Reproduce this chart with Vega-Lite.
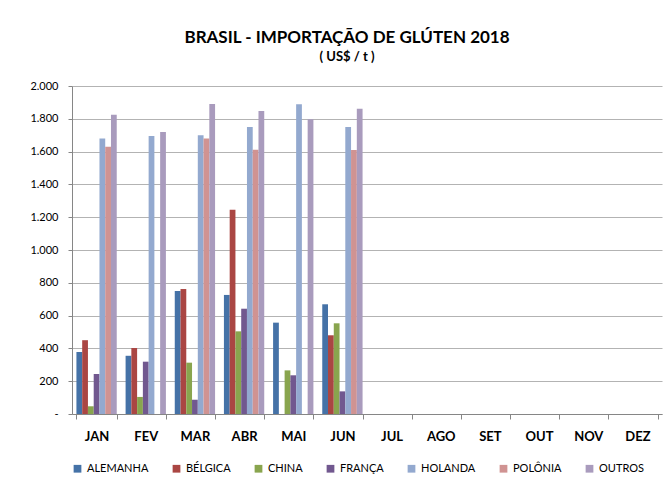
{
  "$schema": "https://vega.github.io/schema/vega-lite/v6.json",
  "width": 590,
  "height": 328,
  "autosize": {"type": "none"},
  "padding": {"left": 72, "top": 86, "right": 3, "bottom": 72},
  "background": "white",
  "title": {
    "text": "BRASIL - IMPORTAÇÃO DE GLÚTEN 2018",
    "subtitle": "( US$ / t )",
    "font": "Lato",
    "fontSize": 17,
    "fontWeight": "bold",
    "subtitleFont": "Lato",
    "subtitleFontSize": 13,
    "subtitleFontWeight": "bold",
    "subtitleColor": "#000000",
    "subtitlePadding": 4,
    "color": "#000000",
    "anchor": "middle",
    "dx": -20,
    "offset": 15
  },
  "data": {
    "values": [
      {"mes": "JAN", "pais": "ALEMANHA", "valor": 378},
      {"mes": "JAN", "pais": "BÉLGICA", "valor": 450},
      {"mes": "JAN", "pais": "CHINA", "valor": 47},
      {"mes": "JAN", "pais": "FRANÇA", "valor": 244},
      {"mes": "JAN", "pais": "HOLANDA", "valor": 1680},
      {"mes": "JAN", "pais": "POLÔNIA", "valor": 1630},
      {"mes": "JAN", "pais": "OUTROS", "valor": 1825},
      {"mes": "FEV", "pais": "ALEMANHA", "valor": 355},
      {"mes": "FEV", "pais": "BÉLGICA", "valor": 402},
      {"mes": "FEV", "pais": "CHINA", "valor": 104},
      {"mes": "FEV", "pais": "FRANÇA", "valor": 319},
      {"mes": "FEV", "pais": "HOLANDA", "valor": 1695},
      {"mes": "FEV", "pais": "POLÔNIA", "valor": 0},
      {"mes": "FEV", "pais": "OUTROS", "valor": 1720},
      {"mes": "MAR", "pais": "ALEMANHA", "valor": 750},
      {"mes": "MAR", "pais": "BÉLGICA", "valor": 762},
      {"mes": "MAR", "pais": "CHINA", "valor": 313},
      {"mes": "MAR", "pais": "FRANÇA", "valor": 87},
      {"mes": "MAR", "pais": "HOLANDA", "valor": 1700},
      {"mes": "MAR", "pais": "POLÔNIA", "valor": 1680},
      {"mes": "MAR", "pais": "OUTROS", "valor": 1890},
      {"mes": "ABR", "pais": "ALEMANHA", "valor": 726},
      {"mes": "ABR", "pais": "BÉLGICA", "valor": 1245},
      {"mes": "ABR", "pais": "CHINA", "valor": 504},
      {"mes": "ABR", "pais": "FRANÇA", "valor": 642},
      {"mes": "ABR", "pais": "HOLANDA", "valor": 1750},
      {"mes": "ABR", "pais": "POLÔNIA", "valor": 1612},
      {"mes": "ABR", "pais": "OUTROS", "valor": 1848},
      {"mes": "MAI", "pais": "ALEMANHA", "valor": 557},
      {"mes": "MAI", "pais": "BÉLGICA", "valor": 0},
      {"mes": "MAI", "pais": "CHINA", "valor": 266},
      {"mes": "MAI", "pais": "FRANÇA", "valor": 236},
      {"mes": "MAI", "pais": "HOLANDA", "valor": 1888},
      {"mes": "MAI", "pais": "POLÔNIA", "valor": 0},
      {"mes": "MAI", "pais": "OUTROS", "valor": 1797},
      {"mes": "JUN", "pais": "ALEMANHA", "valor": 669},
      {"mes": "JUN", "pais": "BÉLGICA", "valor": 480},
      {"mes": "JUN", "pais": "CHINA", "valor": 553},
      {"mes": "JUN", "pais": "FRANÇA", "valor": 138},
      {"mes": "JUN", "pais": "HOLANDA", "valor": 1750},
      {"mes": "JUN", "pais": "POLÔNIA", "valor": 1610},
      {"mes": "JUN", "pais": "OUTROS", "valor": 1862}
    ]
  },
  "mark": {"type": "bar"},
  "encoding": {
    "x": {
      "field": "mes",
      "type": "nominal",
      "scale": {
        "domain": ["JAN", "FEV", "MAR", "ABR", "MAI", "JUN", "JUL", "AGO", "SET", "OUT", "NOV", "DEZ"],
        "paddingInner": 0.18,
        "paddingOuter": 0.09
      },
      "axis": {
        "title": null,
        "labelAngle": 0,
        "labelFont": "Lato",
        "labelFontSize": 13,
        "labelFontWeight": "bold",
        "labelColor": "#000000",
        "labelPadding": 11,
        "tickBand": "extent",
        "tickSize": 5,
        "tickColor": "#868686",
        "domainColor": "#868686",
        "grid": false
      }
    },
    "xOffset": {
      "field": "pais",
      "type": "nominal",
      "sort": ["ALEMANHA", "BÉLGICA", "CHINA", "FRANÇA", "HOLANDA", "POLÔNIA", "OUTROS"],
      "scale": {"paddingInner": 0}
    },
    "y": {
      "field": "valor",
      "type": "quantitative",
      "scale": {"domain": [0, 2000], "nice": false},
      "axis": {
        "title": null,
        "values": [0, 200, 400, 600, 800, 1000, 1200, 1400, 1600, 1800, 2000],
        "labelExpr": "datum.value == 0 ? '-' : replace(format(datum.value, ','), ',', '.')",
        "labelFont": "Lato",
        "labelFontSize": 11,
        "labelColor": "#000000",
        "labelPadding": 10,
        "ticks": true,
        "tickSize": 4,
        "tickColor": "#868686",
        "domainColor": "#868686",
        "gridColor": "#b3b3b3",
        "gridWidth": 1
      }
    },
    "color": {
      "field": "pais",
      "type": "nominal",
      "sort": ["ALEMANHA", "BÉLGICA", "CHINA", "FRANÇA", "HOLANDA", "POLÔNIA", "OUTROS"],
      "scale": {
        "domain": ["ALEMANHA", "BÉLGICA", "CHINA", "FRANÇA", "HOLANDA", "POLÔNIA", "OUTROS"],
        "range": ["#4572A7", "#AA4643", "#89A54E", "#71588F", "#93A9CF", "#D09392", "#A99BBD"]
      },
      "legend": {
        "title": null,
        "orient": "bottom",
        "direction": "horizontal",
        "symbolType": "square",
        "symbolSize": 60,
        "symbolStrokeWidth": 0,
        "labelFont": "Lato",
        "labelFontSize": 11,
        "labelColor": "#000000",
        "columnPadding": 22,
        "offset": 20
      }
    }
  },
  "config": {
    "view": {"stroke": null}
  }
}
